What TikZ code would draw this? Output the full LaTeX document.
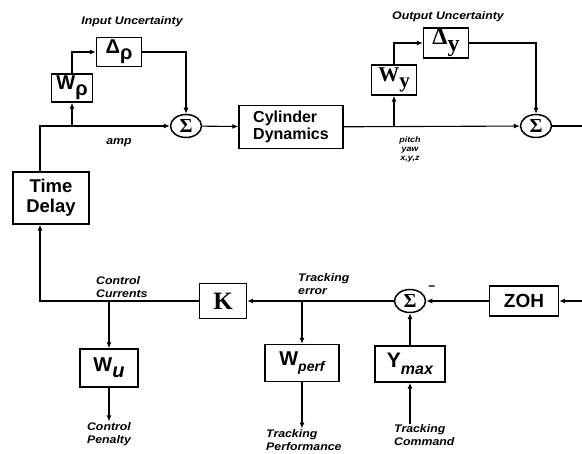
\documentclass[tikz,border=0pt]{standalone}
\usepackage{fontspec}
\setmainfont{Liberation Serif}
\setsansfont{Liberation Sans}
\newfontfamily\lblfont[FakeStretch=1.12]{Liberation Sans}
\newfontfamily\sigfont{Liberation Serif}
\usetikzlibrary{arrows.meta,shapes.geometric}
\newcommand{\lowsub}[1]{\raisebox{-0.3em}{#1}}
\newcommand{\sumsign}{\resizebox{!}{13pt}{\bfseries Σ}}

\begin{document}
\begin{tikzpicture}[
x=1pt,
y=-1pt,
every node/.style={inner sep=0pt},
blk/.style={rectangle,draw,line width=1.4pt,align=center,font=\sffamily\bfseries\fontsize{18}{19}\selectfont},
sblk/.style={rectangle,draw,line width=1.4pt,align=center,font=\rmfamily\bfseries\fontsize{22}{22}\selectfont},
sumnode/.style={ellipse,draw,line width=1.5pt,minimum width=31pt,minimum height=23pt,inner sep=0pt,font=\sigfont\fontsize{22}{22}\selectfont},
lbl/.style={font=\lblfont\bfseries\itshape\fontsize{11}{12.5}\selectfont,align=left,inner sep=1pt},
arr/.style={-{Latex[length=6pt,width=5pt]},line width=1.1pt},
wire/.style={line width=1.1pt}
]
\useasboundingbox (0,0) rectangle (582,454);

% upper loop: input and output uncertainty
\node[lbl] (inunc) at (132,22) {Input Uncertainty};
\node[blk,minimum width=45pt,minimum height=29pt,font=\sffamily\bfseries\fontsize{20}{20}\selectfont] (dp) at (119,52) {Δ\lowsub{ρ}};
\node[blk,minimum width=41pt,minimum height=28pt,font=\sffamily\bfseries\fontsize{20}{20}\selectfont] (wp) at (72,88) {W\lowsub{ρ}};
\node[sumnode] (s1) at (186,126) {\sumsign};
\node[lbl] (amp) at (119,143) {amp};
\node[blk,minimum width=104pt,minimum height=43pt,align=left,font=\sffamily\bfseries\fontsize{16}{17}\selectfont] (cyl) at (291,127) {Cylinder\\Dynamics};
\node[lbl] (outunc) at (448,17) {Output Uncertainty};
\node[sblk,minimum width=45pt,minimum height=30pt,font=\rmfamily\bfseries\fontsize{24}{24}\selectfont] (dy) at (446,43) {Δ\lowsub{y}};
\node[sblk,minimum width=45pt,minimum height=30pt,font=\rmfamily\bfseries\fontsize{21}{21}\selectfont] (wy) at (394,80) {W\lowsub{y}};
\node[sumnode] (s2) at (536,126) {\sumsign};
\node[lbl,align=center,font=\lblfont\bfseries\itshape\fontsize{8}{9}\selectfont] (states) at (410,149) {pitch\\yaw\\x,y,z};
\node[blk,minimum width=76pt,minimum height=52pt,font=\sffamily\bfseries\fontsize{18.5}{20}\selectfont] (delay) at (51,198) {Time\\Delay};

% lower loop: controller and weights
\node[sblk,minimum width=47pt,minimum height=35pt,font=\rmfamily\bfseries\fontsize{25}{25}\selectfont] (k) at (223,301) {K};
\node[lbl,anchor=west] (cc) at (95,287) {Control\\Currents};
\node[blk,minimum width=58pt,minimum height=38pt,font=\sffamily\bfseries\fontsize{20}{20}\selectfont] (wu) at (109,368) {W\lowsub{\itshape u}};
\node[lbl,align=center] (pen) at (109,434) {Control\\Penalty};
\node[lbl,anchor=west] (te) at (297,284) {Tracking\\error};
\node[blk,minimum width=74pt,minimum height=37pt,font=\sffamily\bfseries\fontsize{20}{20}\selectfont] (wperf) at (302,363) {W\lowsub{\itshape\fontsize{14}{14}\selectfont perf}};
\node[lbl,anchor=west] (tp) at (265,440) {Tracking\\Performance};
\node[sumnode] (s3) at (410,301) {\sumsign};
\node[font=\sffamily\bfseries\fontsize{12}{12}\selectfont] (minus) at (432,288) {−};
\node[blk,minimum width=69pt,minimum height=30pt,font=\sffamily\bfseries\fontsize{19}{19}\selectfont] (zoh) at (524,301) {ZOH};
\node[blk,minimum width=70pt,minimum height=36pt,font=\sffamily\bfseries\fontsize{21}{21}\selectfont] (ymax) at (410,364) {Y\lowsub{\itshape\fontsize{16}{16}\selectfont max}};
\node[lbl,anchor=west] (tc) at (393,435) {Tracking\\Command};

\coordinate (fbb) at (40,301);
\coordinate (fbt) at (40,126);
\coordinate (bp) at (72,126);
\coordinate (by) at (394,126);
\coordinate (yout) at (582,126);
\coordinate (zin) at (582,301);
\coordinate (bu) at (109,301);
\coordinate (be) at (302,301);

\draw[arr] (k) -- (fbb) -- (fbb |- delay.south);
\draw[arr] (fbb |- delay.north) -- (fbt) -- (s1);
\draw[arr] (bp) -- (wp);
\draw[arr] (wp) |- (dp);
\draw[arr] (dp) -| (s1);
\draw[arr] (s1) -- (cyl);
\draw[arr] (cyl) -- (s2);
\draw[arr] (by) -- (wy);
\draw[arr] (wy) |- (dy);
\draw[arr] (dy) -| (s2);
\draw[wire] (s2) -- (yout);
\draw[arr] (zin) -- (zoh);
\draw[arr] (zoh) -- (s3);
\draw[arr] (s3) -- (k);
\draw[arr] (bu) -- (wu);
\draw[arr] (wu) -- (pen);
\draw[arr] (be) -- (wperf);
\draw[arr] (wperf) -- (wperf.south |- tp.north);
\draw[arr] (ymax.south |- tc.north) -- (ymax);
\draw[arr] (ymax) -- (s3);
\end{tikzpicture}
\end{document}
